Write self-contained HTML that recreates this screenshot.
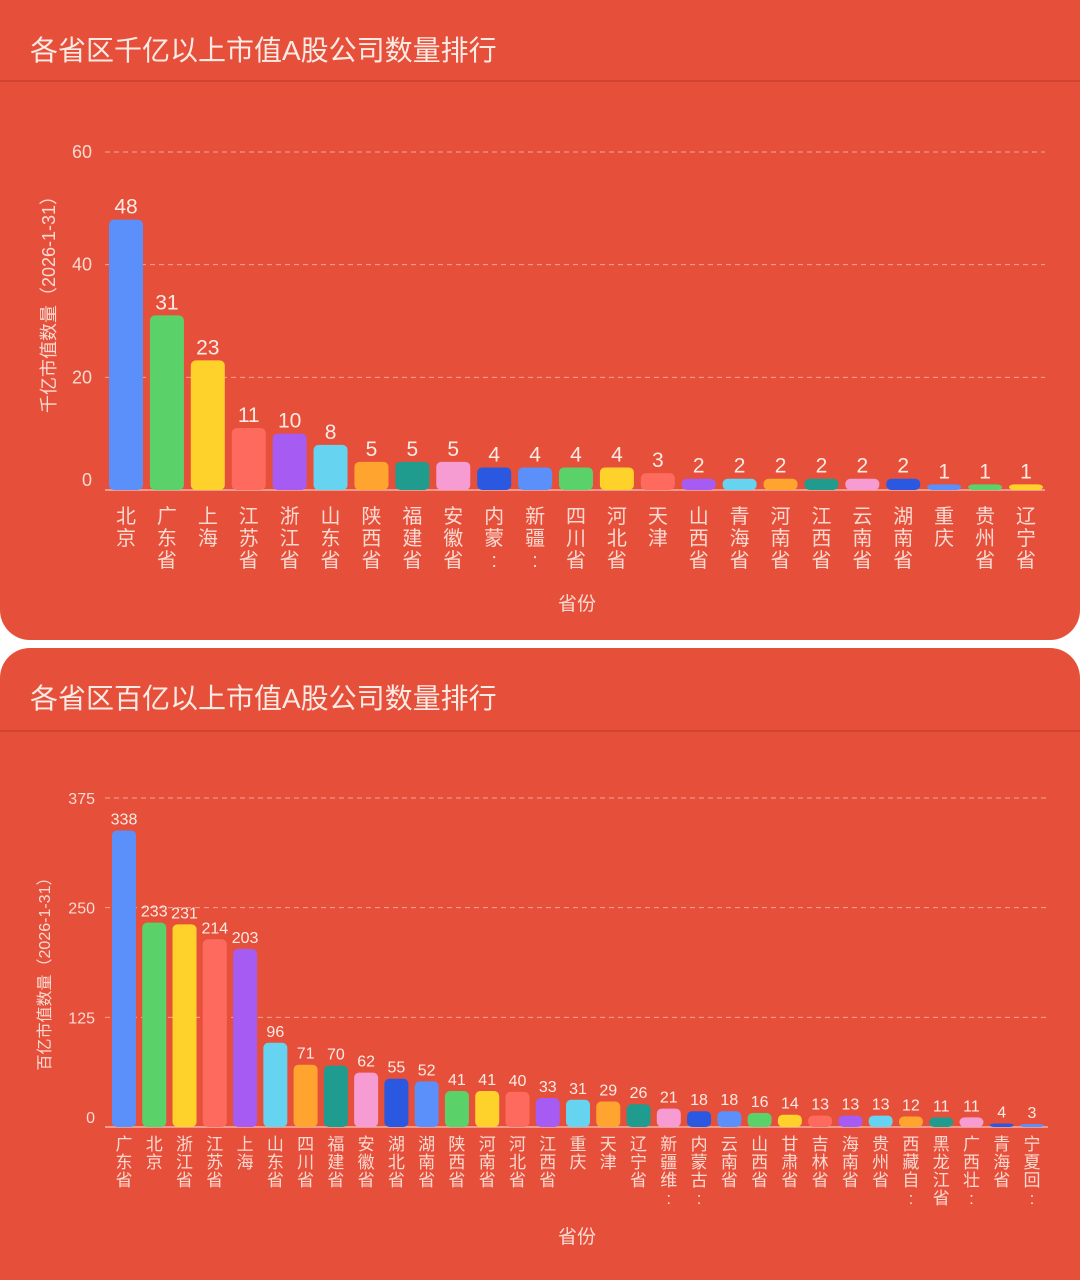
<!DOCTYPE html>
<html><head><meta charset="utf-8">
<style>
html,body{margin:0;padding:0;background:#fff;width:1080px;height:1280px;overflow:hidden}
svg{display:block}
text{font-family:"Liberation Sans","Noto Sans CJK SC",sans-serif;}
</style></head>
<body>
<svg id="s" width="1080" height="1280" xmlns="http://www.w3.org/2000/svg">
<rect x="0" y="-40" width="1080" height="680" rx="30" fill="#E6503A"/>
<rect x="0" y="648" width="1080" height="680" rx="30" fill="#E6503A"/>
<line x1="0" y1="81" x2="1080" y2="81" stroke="#C9412E" stroke-width="1.5"/>
<line x1="0" y1="731" x2="1080" y2="731" stroke="#C9412E" stroke-width="1.5"/>
<text x="30" y="60" font-size="28" fill="#FCEAE4">各省区千亿以上市值A股公司数量排行</text>
<text x="30" y="708" font-size="28" fill="#FCEAE4">各省区百亿以上市值A股公司数量排行</text>
<g id="g"></g>
</svg>
<script>
var pal=["#5B8FF9","#5BD16A","#FFD12B","#FF6A5E","#A65BF2","#66D3F0","#FFA42E","#1F9C8E","#F79CD2","#2A58E0"];
var g=document.getElementById('g'),h='';
function chart(o){
  var ppu=(o.base-o.topY)/o.max;
  o.ticks.forEach(function(t){var y=o.base-t*ppu;
    if(t>0)h+='<line x1="'+o.x0+'" x2="'+o.x1+'" y1="'+y+'" y2="'+y+'" stroke="#F2A496" stroke-dasharray="5,4" stroke-width="1"/>';
    h+='<text x="'+o.lx+'" y="'+(y+(t==0?-4:6))+'" font-size="'+o.tf+'" fill="#FADAD2" text-anchor="end">'+t+'</text>';});
  h+='<line x1="'+o.x0+'" x2="'+o.x1+'" y1="'+o.base+'" y2="'+o.base+'" stroke="#F2B3A8" stroke-width="1.5"/>';
  var n=o.vals.length,slot=(o.lastC-o.firstC)/(n-1);
  o.vals.forEach(function(v,i){var cx=o.firstC+i*slot,bh=Math.max(v*ppu,3),y=o.base-bh;
    h+='<rect x="'+(cx-o.bw/2)+'" y="'+y+'" width="'+o.bw+'" height="'+bh+'" rx="5" fill="'+pal[i%10]+'"/>';
    h+='<text x="'+cx+'" y="'+(y-6)+'" font-size="'+o.vf+'" fill="#FCEAE4" text-anchor="middle">'+v+'</text>';
    var cs=o.names[i].split('');
    cs.forEach(function(c,j){h+='<text x="'+cx+'" y="'+(o.ny+j*o.nl)+'" font-size="'+o.nf+'" fill="#FADAD2" text-anchor="middle">'+c+'</text>';});
  });
  h+='<text transform="translate('+o.tx+','+o.ty+') rotate(-90)" font-size="'+o.ttf+'" fill="#FADAD2" text-anchor="middle">'+o.title+'</text>';
  h+='<text x="577" y="'+o.xty+'" font-size="19" fill="#FADAD2" text-anchor="middle">省份</text>';
}
chart({base:490,topY:152,max:60,ticks:[0,20,40,60],x0:105,x1:1045,lx:92,tf:18,
 vals:[48,31,23,11,10,8,5,5,5,4,4,4,4,3,2,2,2,2,2,2,1,1,1],
 names:["北京","广东省","上海","江苏省","浙江省","山东省","陕西省","福建省","安徽省","内蒙:","新疆:","四川省","河北省","天津","山西省","青海省","河南省","江西省","云南省","湖南省","重庆","贵州省","辽宁省"],
 firstC:126,lastC:1026,bw:34,vf:21,ny:523,nl:22,nf:20,tx:55,ty:300,ttf:18,title:"千亿市值数量（2026-1-31）",xty:610});
chart({base:1127,topY:798,max:375,ticks:[0,125,250,375],x0:105,x1:1048,lx:95,tf:16,
 vals:[338,233,231,214,203,96,71,70,62,55,52,41,41,40,33,31,29,26,21,18,18,16,14,13,13,13,12,11,11,4,3],
 names:["广东省","北京","浙江省","江苏省","上海","山东省","四川省","福建省","安徽省","湖北省","湖南省","陕西省","河南省","河北省","江西省","重庆","天津","辽宁省","新疆维:","内蒙古:","云南省","山西省","甘肃省","吉林省","海南省","贵州省","西藏自:","黑龙江省","广西壮:","青海省","宁夏回:"],
 firstC:124,lastC:1032,bw:24,vf:16,ny:1150,nl:18,nf:17,tx:50,ty:970,ttf:16,title:"百亿市值数量（2026-1-31）",xty:1243});
g.innerHTML=h;
</script>
</body></html>
